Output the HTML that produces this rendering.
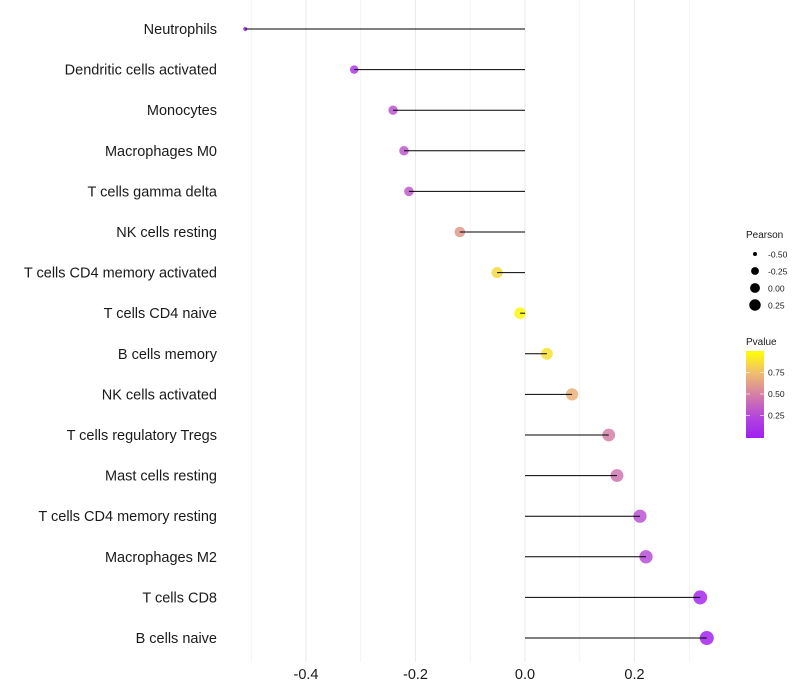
<!DOCTYPE html>
<html><head><meta charset="utf-8"><style>
body{margin:0;background:#fff;}
svg{display:block;font-family:"Liberation Sans",sans-serif;}
</style></head><body>
<svg id="chart" width="800" height="700"></svg>
<script>
const categories=["Neutrophils","Dendritic cells activated","Monocytes","Macrophages M0","T cells gamma delta","NK cells resting","T cells CD4 memory activated","T cells CD4 naive","B cells memory","NK cells activated","T cells regulatory  Tregs ","Mast cells resting","T cells CD4 memory resting","Macrophages M2","T cells CD8","B cells naive"];
const pearson=[-0.511,-0.312,-0.241,-0.221,-0.212,-0.119,-0.051,-0.009,0.040,0.086,0.153,0.168,0.210,0.221,0.320,0.332];
const pvalues=[0.02,0.15,0.30,0.32,0.33,0.60,0.85,0.97,0.88,0.70,0.50,0.45,0.30,0.27,0.05,0.03];
const xTicks=[-0.4,-0.2,0.0,0.2];
const xTickLabels=["-0.4","-0.2","0.0","0.2"];
const minorTicks=[-0.5,-0.3,-0.1,0.1,0.3];
const sizeLegend=[-0.5,-0.25,0,0.25];
const sizeLegendLabels=["-0.50","-0.25","0.00","0.25"];
const pLegend=[0.25,0.5,0.75];
const pLegendLabels=["0.25","0.50","0.75"];

const NS="http://www.w3.org/2000/svg";
const svg=document.getElementById('chart');
const x=v=>525+v*547.5;
const y=i=>29+i*40.6;
const r=v=>1.5+5.5*Math.sqrt(Math.max(0,(v+0.52)/0.85));
const stops=[[0,[160,32,240]],[0.25,[180,72,220]],[0.5,[212,128,164]],[0.75,[240,190,110]],[1,[255,255,0]]];
function col(p){for(let k=1;k<stops.length;k++){if(p<=stops[k][0]){const a=stops[k-1],b=stops[k];const t=(p-a[0])/(b[0]-a[0]);const c=a[1].map((u,j)=>Math.round(u+(b[1][j]-u)*t));return `rgb(${c})`;}}return 'rgb(255,255,0)';}
function el(tag,attrs,parent){const e=document.createElementNS(NS,tag);for(const k in attrs)e.setAttribute(k,attrs[k]);(parent||svg).appendChild(e);return e;}
function txt(s,attrs,parent){const t=el('text',attrs,parent);t.textContent=s;return t;}

const grid=el('g',{});


minorTicks.forEach(v=>{el('line',{x1:x(v),x2:x(v),y1:0,y2:662,stroke:'#f2f2f2','stroke-width':0.8},grid);});
xTicks.forEach(v=>{el('line',{x1:x(v),x2:x(v),y1:0,y2:662,stroke:'#ebebeb','stroke-width':1.1},grid);});

const marks=el('g',{});


categories.forEach((c,i)=>{
  const cy=y(i);
  const dot=el('circle',{cx:x(pearson[i]),cy:cy,r:r(pearson[i]),fill:col(pvalues[i]),'fill-opacity':0.85},marks);
  
  
  const seg=el('line',{x1:x(pearson[i]),x2:x(0),y1:cy,y2:cy,stroke:'#000','stroke-width':1},marks);
  
  
  const lb=txt(c,{x:217,y:cy+5,'text-anchor':'end','font-size':14.5,fill:'#1a1a1a'});
  
  
});
xTicks.forEach((v,i)=>{
  const t=txt(xTickLabels[i],{x:x(v),y:679,'text-anchor':'middle','font-size':14.5,fill:'#1a1a1a'});
  
  
});

const leg=el('g',{});


txt('Pearson',{x:746,y:238,'font-size':10,fill:'#1a1a1a'},leg);
sizeLegend.forEach((v,i)=>{
  const cy=254+i*17;
  el('circle',{cx:755,cy:cy,r:r(v)*0.85,fill:'#000'},leg);
  txt(sizeLegendLabels[i],{x:768,y:cy+3.5,'font-size':8.5,fill:'#1a1a1a'},leg);
});
txt('Pvalue',{x:746,y:345,'font-size':10,fill:'#1a1a1a'},leg);
const defs=el('defs',{});
const lg=el('linearGradient',{id:'pg',x1:0,y1:1,x2:0,y2:0},defs);
stops.forEach(s=>el('stop',{offset:s[0],'stop-color':`rgb(${s[1]})`},lg));
el('rect',{x:746,y:351,width:18,height:87,fill:'url(#pg)'},leg);
const py=p=>437-p*86;
pLegend.forEach((p,i)=>{
  el('line',{x1:746,x2:750,y1:py(p),y2:py(p),stroke:'#fff','stroke-width':0.6},leg);
  el('line',{x1:760,x2:764,y1:py(p),y2:py(p),stroke:'#fff','stroke-width':0.6},leg);
  txt(pLegendLabels[i],{x:768,y:py(p)+3,'font-size':8.5,fill:'#1a1a1a'},leg);
});
</script>
</body></html>
